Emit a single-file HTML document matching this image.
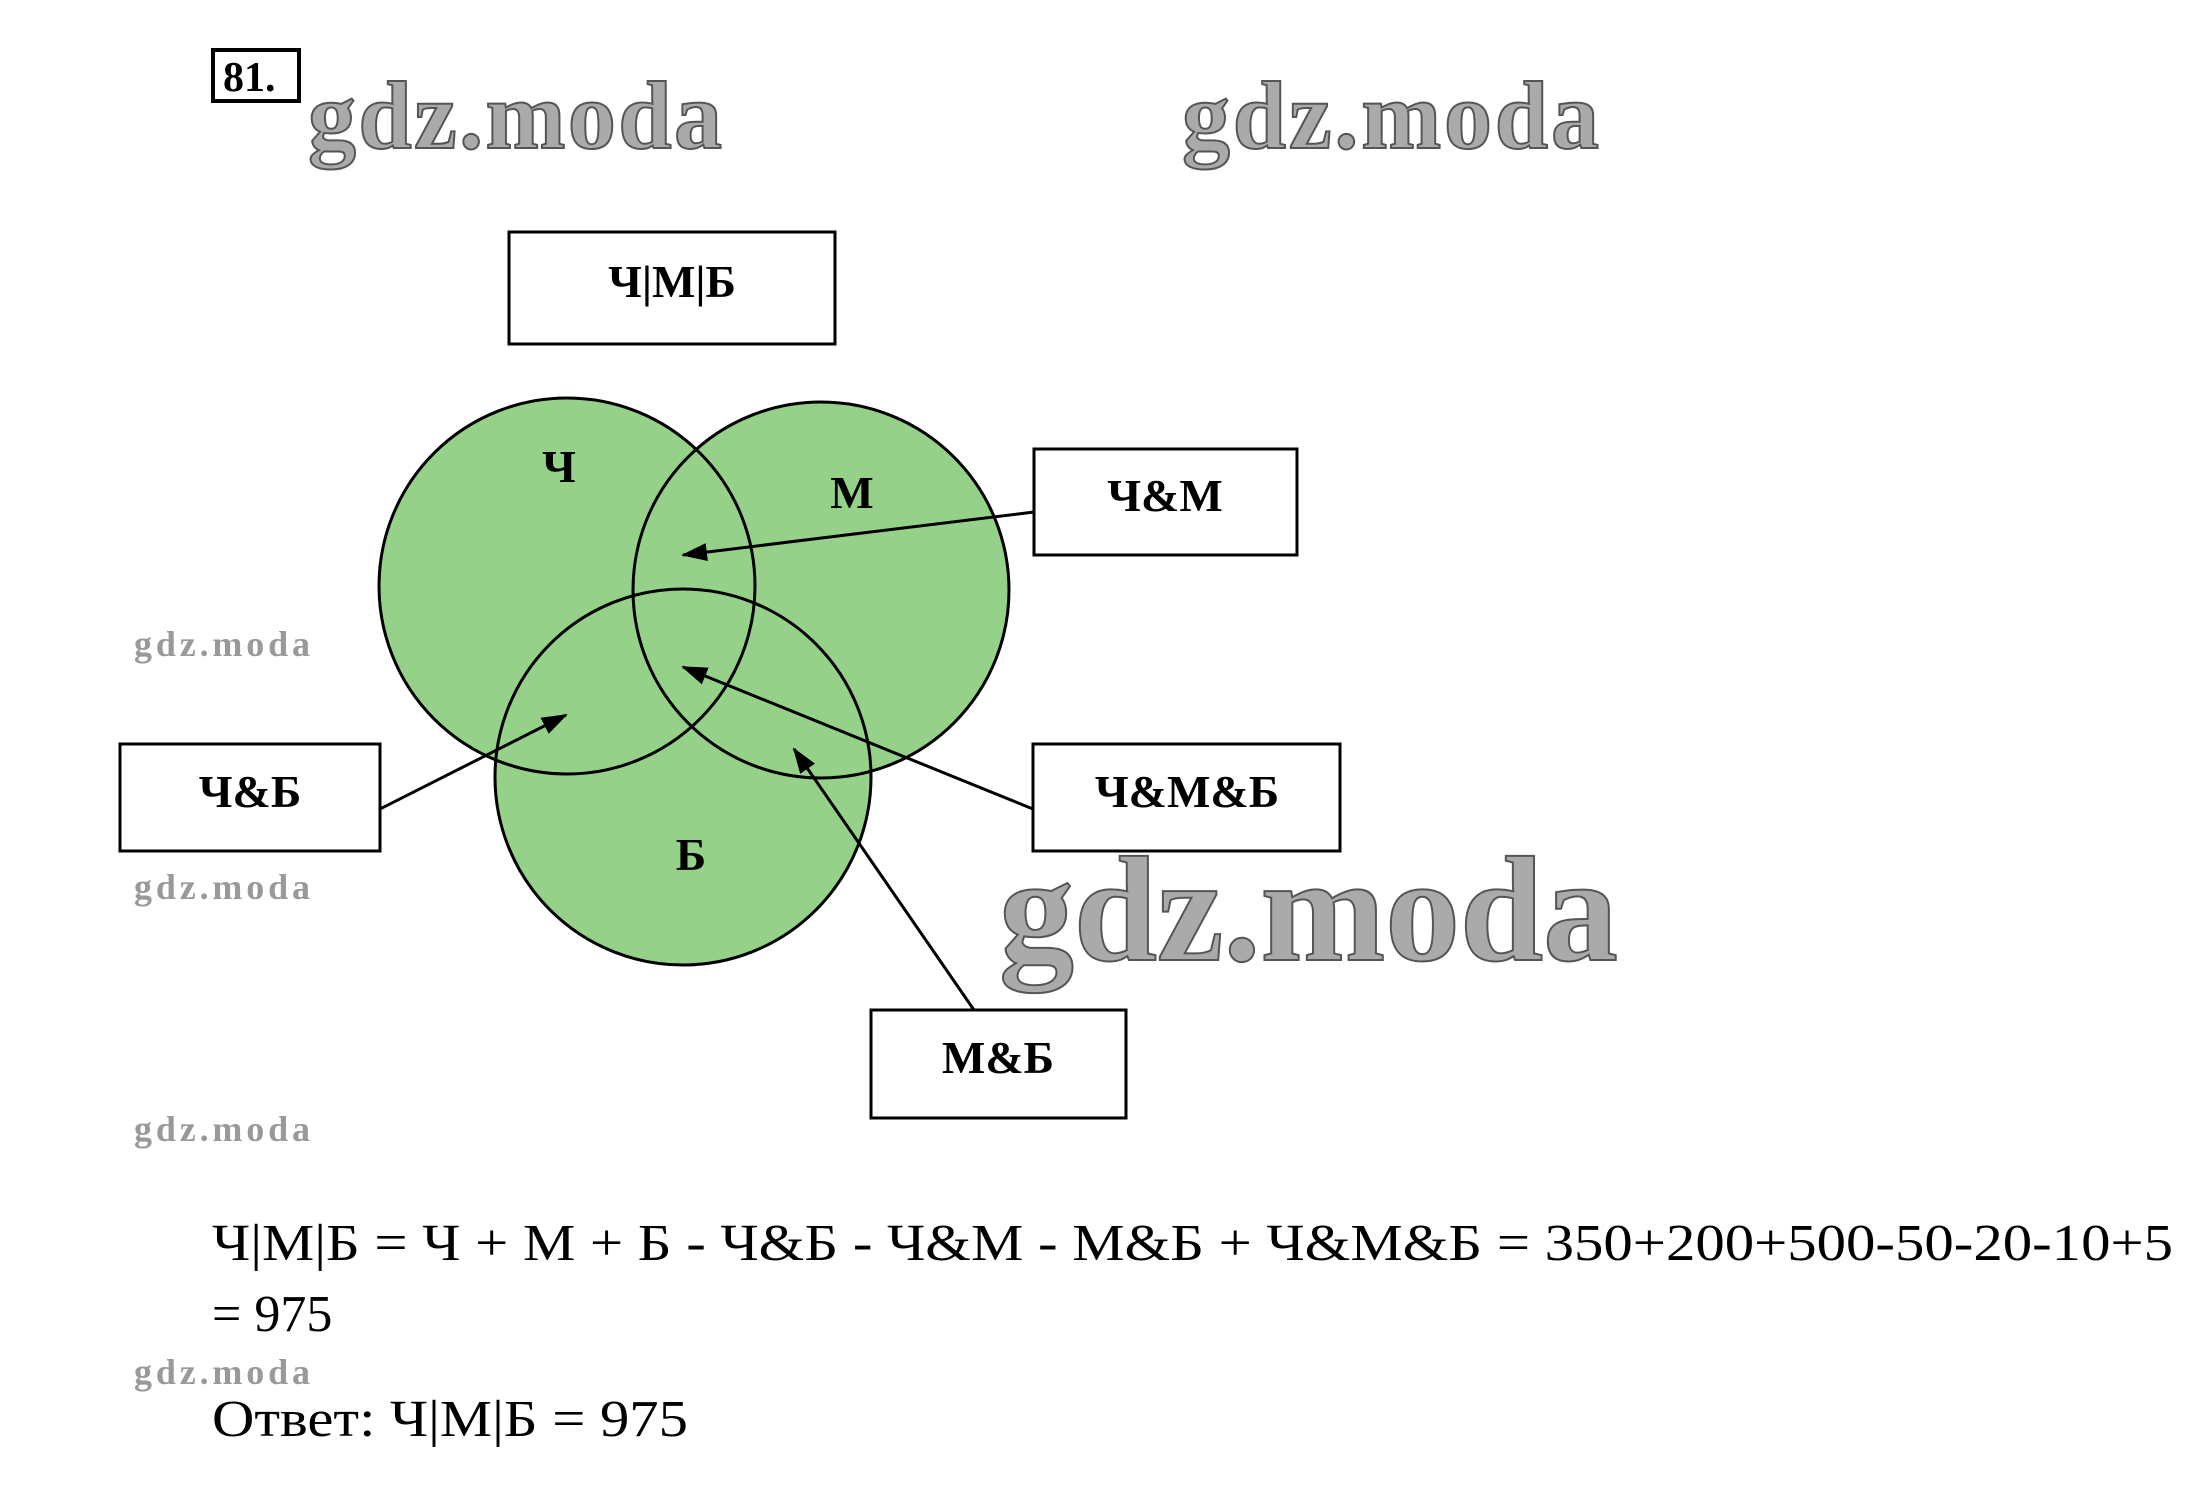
<!DOCTYPE html>
<html><head><meta charset="utf-8"><style>
html,body{margin:0;padding:0;background:#fff;}
svg{display:block;}
</style></head><body>
<svg width="2190" height="1505" viewBox="0 0 2190 1505" xmlns="http://www.w3.org/2000/svg" font-family="'Liberation Serif', serif">
<defs>
<marker id="ah2" markerWidth="26" markerHeight="18" refX="24" refY="9" orient="auto" markerUnits="userSpaceOnUse">
<path d="M0,0 L26,9 L0,18 z" fill="#000"/>
</marker>
</defs>
<rect x="213" y="50" width="86" height="51" fill="none" stroke="#000" stroke-width="4"/>
<text x="223" y="91" font-size="42" font-weight="bold">81.</text>
<g font-family="'Liberation Serif', serif" font-weight="bold" fill="#aaa" stroke="#555" stroke-width="2">
<text x="308" y="148" font-size="96" textLength="414">gdz.moda</text>
<text x="1182" y="148" font-size="96" textLength="417">gdz.moda</text>
<text x="999" y="960" font-size="150" textLength="619">gdz.moda</text>
</g>
<g font-weight="bold" fill="#999" font-size="36">
<text x="134" y="656" textLength="176">gdz.moda</text>
<text x="134" y="899" textLength="176">gdz.moda</text>
<text x="134" y="1141" textLength="176">gdz.moda</text>
<text x="134" y="1384" textLength="176">gdz.moda</text>
</g>
<rect x="509" y="232" width="326" height="112" fill="none" stroke="#000" stroke-width="3"/>
<text x="672" y="297" font-size="46" font-weight="bold" text-anchor="middle">Ч|М|Б</text>
<g fill="#96d18a">
<circle cx="567" cy="586" r="188"/><circle cx="821" cy="590" r="188"/><circle cx="683" cy="777" r="188"/>
</g>
<g fill="none" stroke="#000" stroke-width="3">
<circle cx="567" cy="586" r="188"/><circle cx="821" cy="590" r="188"/><circle cx="683" cy="777" r="188"/>
</g>
<g font-size="46" font-weight="bold" text-anchor="middle">
<text x="559" y="482">Ч</text><text x="852" y="508">М</text><text x="691" y="870">Б</text>
</g>
<g fill="#fff" stroke="#000" stroke-width="3">
<rect x="1034" y="449" width="263" height="106"/>
<rect x="120" y="744" width="260" height="107"/>
<rect x="1033" y="744" width="307" height="107"/>
<rect x="871" y="1010" width="255" height="108"/>
</g>
<g font-size="46" font-weight="bold" text-anchor="middle">
<text x="1165" y="511">Ч&amp;М</text>
<text x="250" y="807">Ч&amp;Б</text>
<text x="1187" y="807">Ч&amp;М&amp;Б</text>
<text x="998" y="1073">М&amp;Б</text>
</g>
<g stroke="#000" stroke-width="3" fill="none" marker-end="url(#ah2)">
<line x1="1034" y1="512" x2="683" y2="555"/>
<line x1="380" y1="809" x2="566" y2="715"/>
<line x1="1033" y1="809" x2="683" y2="667"/>
<line x1="974" y1="1010" x2="794" y2="749"/>
</g>
<g font-size="52">
<text x="212" y="1260" textLength="1961" lengthAdjust="spacingAndGlyphs">Ч|М|Б = Ч + М + Б - Ч&amp;Б - Ч&amp;М - М&amp;Б + Ч&amp;М&amp;Б = 350+200+500-50-20-10+5</text>
<text x="212" y="1331">= 975</text>
<text x="212" y="1436" textLength="476" lengthAdjust="spacingAndGlyphs">Ответ: Ч|М|Б = 975</text>
</g>
</svg>
</body></html>
